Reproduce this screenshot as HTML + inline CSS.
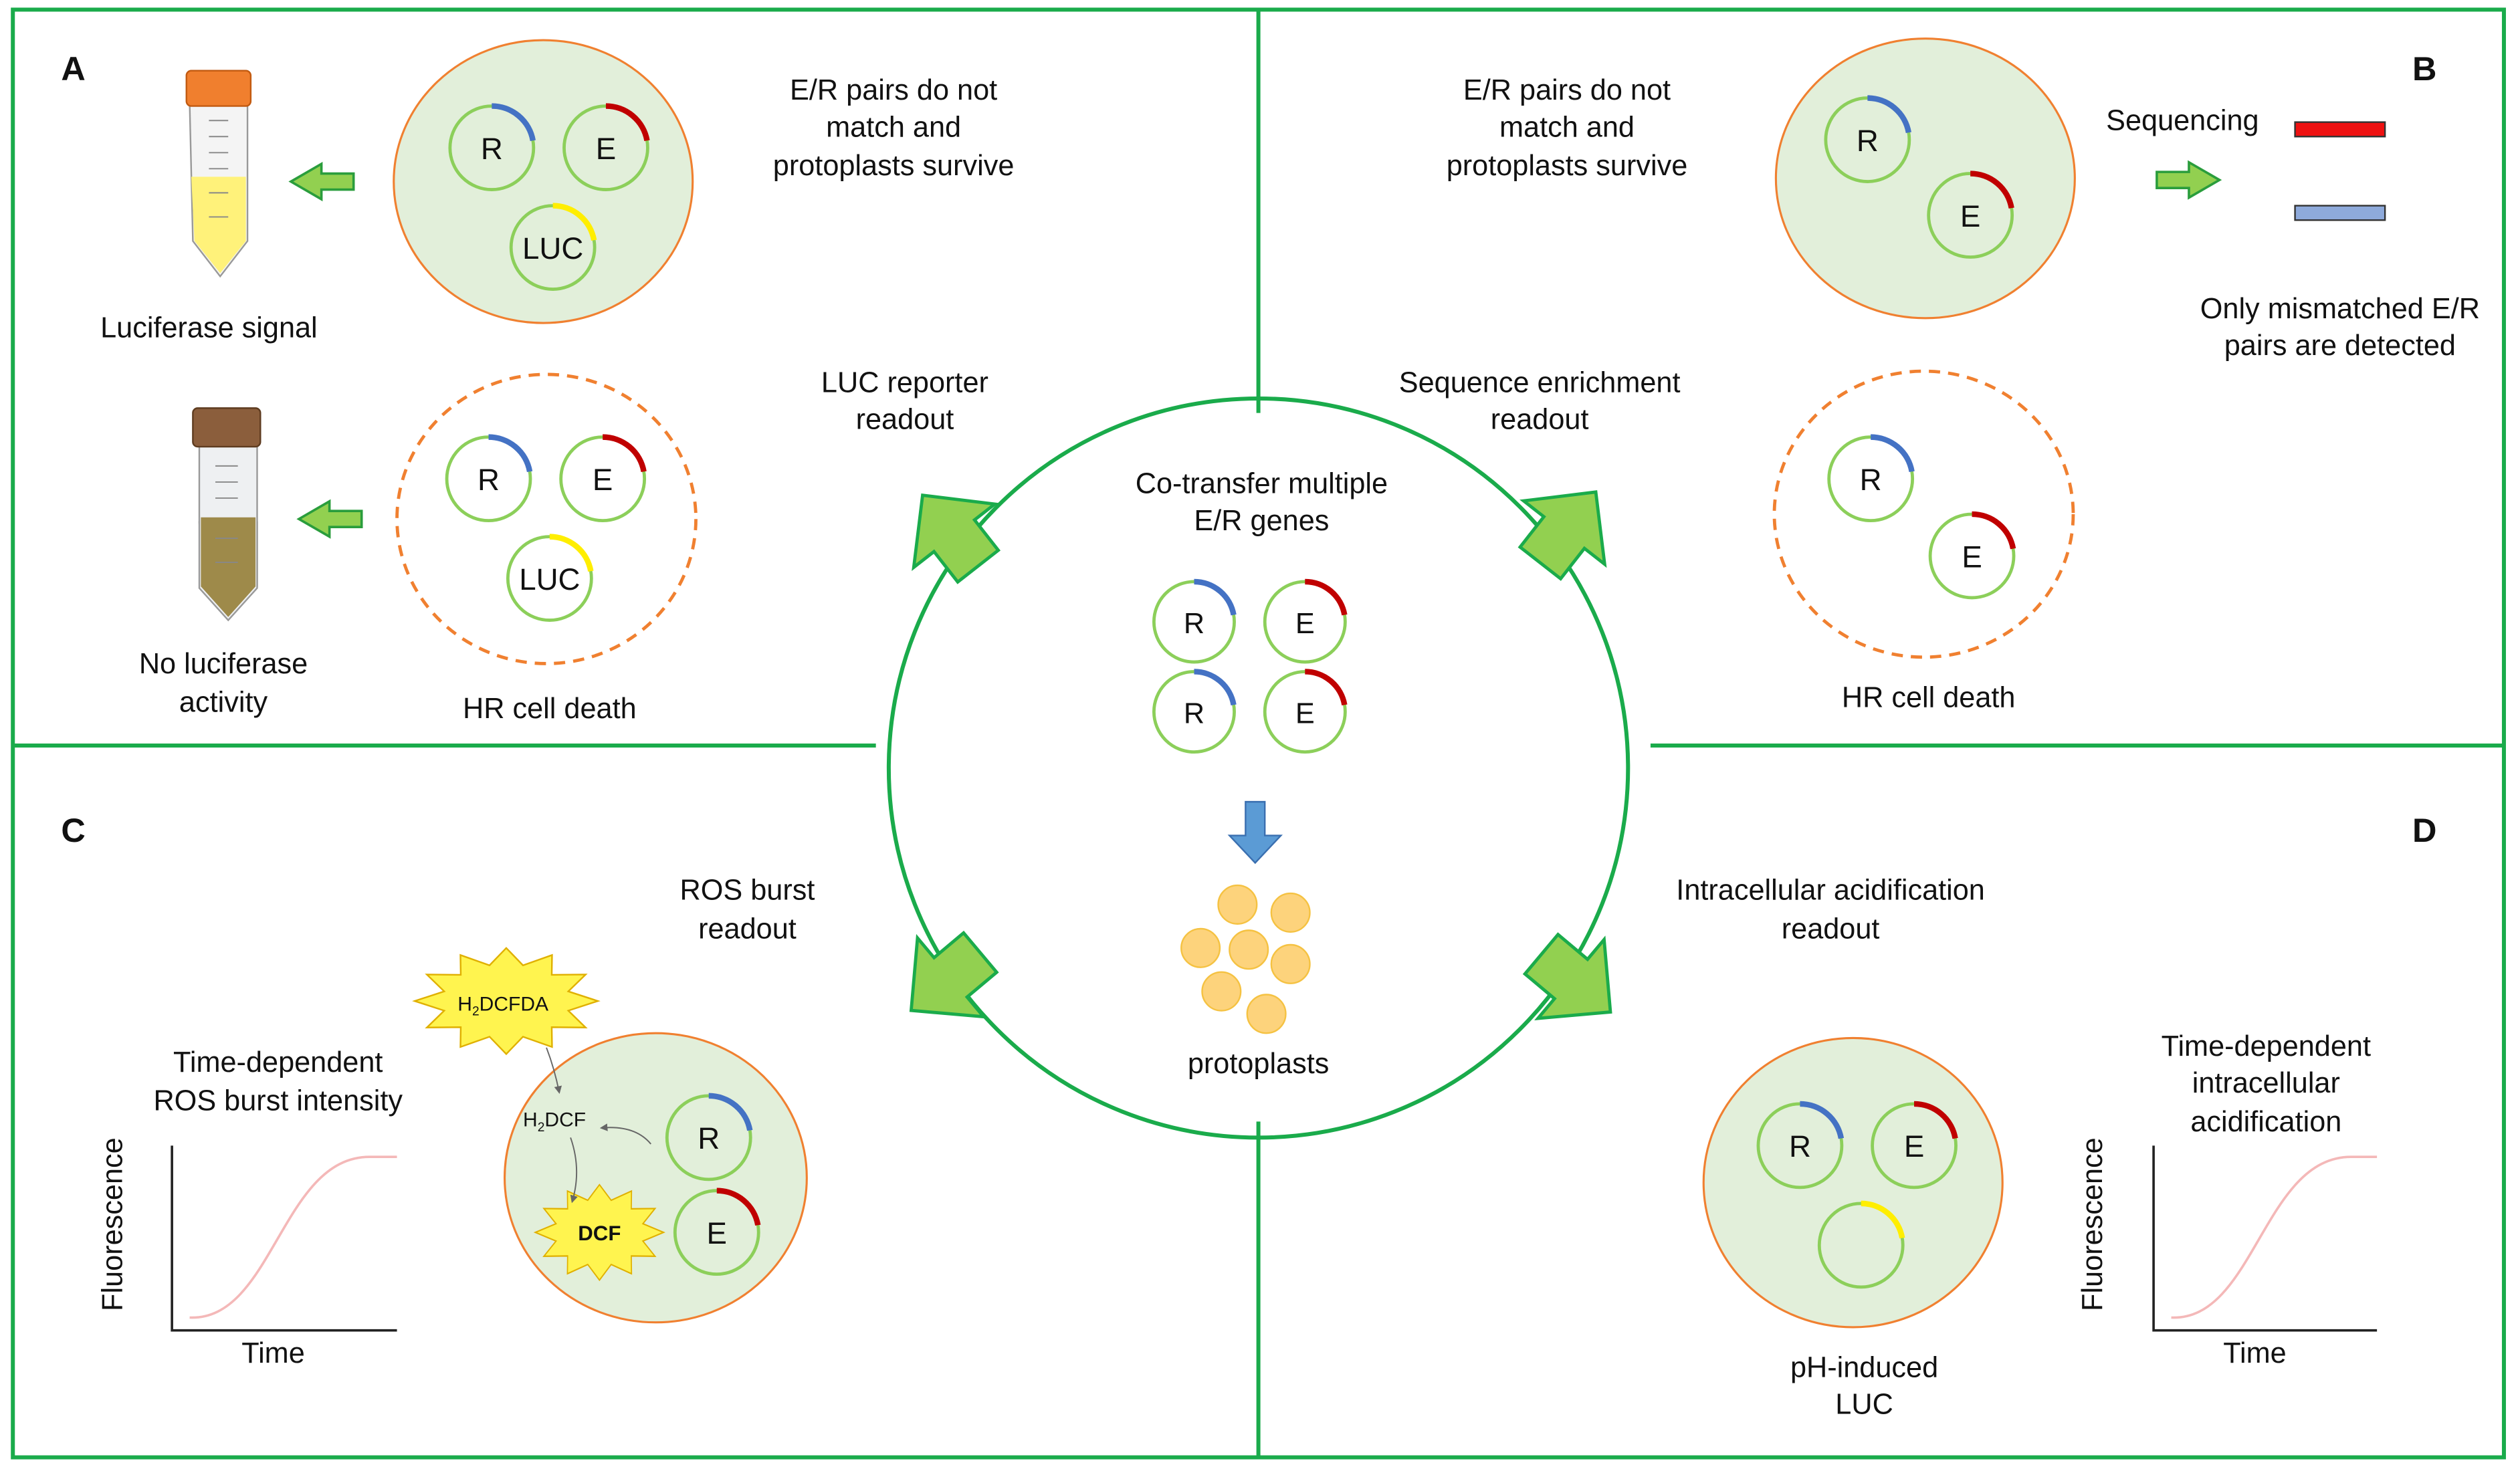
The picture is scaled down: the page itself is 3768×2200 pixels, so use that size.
<!DOCTYPE html>
<html><head><meta charset="utf-8"><style>html,body{margin:0;padding:0;background:#fff}svg{display:block}text{font-family:"Liberation Sans",Arial,sans-serif;fill:#111}</style></head>
<body>
<svg width="3768" height="2200" viewBox="0 0 1568 915.5" xmlns="http://www.w3.org/2000/svg">
<defs>
<g id="arc"><circle r="25" fill="none" stroke="#8ccf5a" stroke-width="2"/></g>
<polygon id="big" points="-22,-16 2,-16 2,-32 34,0 2,32 2,16 -22,16" fill="#92d050" stroke="#1aab4b" stroke-width="2"/>
<polygon id="small" points="20,-5 0,-5 0,-11 -19,0 0,11 0,5 20,5" fill="#92d050" stroke="#2a9d3c" stroke-width="1.5"/>
<polygon id="star" points="57,0 38.6,6 49.4,16.5 28.3,16.3 28.5,28.6 10.4,22.2 0,33 -10.4,22.2 -28.5,28.6 -28.3,16.3 -49.4,16.5 -38.6,6 -57,0 -38.6,-6 -49.4,-16.5 -28.3,-16.3 -28.5,-28.6 -10.4,-22.2 0,-33 10.4,-22.2 28.5,-28.6 28.3,-16.3 49.4,-16.5 38.6,-6" fill="#fff44f" stroke="#e0b000" stroke-width="1"/>
<marker id="ah" markerWidth="6" markerHeight="6" refX="5" refY="3" orient="auto"><path d="M0,0 L6,3 L0,6z" fill="#666"/></marker>
</defs>
<g stroke="#1aab4b" stroke-width="2.5" fill="none">
<rect x="8" y="6" width="1550" height="901"/>
<line x1="783" y1="6" x2="783" y2="257"/><line x1="783" y1="698" x2="783" y2="907"/>
<line x1="8" y1="464" x2="545" y2="464"/><line x1="1027" y1="464" x2="1558" y2="464"/>
<circle cx="783" cy="478" r="230"/>
</g>
<g font-weight="bold" font-size="21"><text x="38" y="50">A</text><text x="1501" y="50">B</text><text x="38" y="524">C</text><text x="1501" y="524">D</text></g>
<g font-size="18" text-anchor="middle">
<text x="556" y="62">E/R pairs do not</text><text x="556" y="85">match and</text><text x="556" y="109">protoplasts survive</text>
<text x="130" y="210">Luciferase signal</text>
<text x="139" y="419">No luciferase</text><text x="139" y="443">activity</text>
<text x="342" y="447">HR cell death</text>
<text x="563" y="244">LUC reporter</text><text x="563" y="267">readout</text>
<text x="975" y="62">E/R pairs do not</text><text x="975" y="85">match and</text><text x="975" y="109">protoplasts survive</text>
<text x="1358" y="81">Sequencing</text>
<text x="1456" y="198">Only mismatched E/R</text><text x="1456" y="221">pairs are detected</text>
<text x="958" y="244">Sequence enrichment</text><text x="958" y="267">readout</text>
<text x="1200" y="440">HR cell death</text>
<text x="785" y="307">Co-transfer multiple</text><text x="785" y="330">E/R genes</text>
<text x="783" y="668">protoplasts</text>
<text x="465" y="560">ROS burst</text><text x="465" y="584">readout</text>
<text x="173" y="667">Time-dependent</text><text x="173" y="691">ROS burst intensity</text>
<text x="170" y="848">Time</text>
<text x="1139" y="560">Intracellular acidification</text><text x="1139" y="584">readout</text>
<text x="1160" y="857">pH-induced</text><text x="1160" y="880">LUC</text>
<text x="1410" y="657">Time-dependent</text><text x="1410" y="680">intracellular</text><text x="1410" y="704">acidification</text>
<text x="1403" y="848">Time</text>
<text transform="translate(76,762) rotate(-90)">Fluorescence</text>
<text transform="translate(1308,762) rotate(-90)">Fluorescence</text>
</g>
<!-- cells -->
<g stroke="#f08030" stroke-width="1.3" fill="#e2efda">
<ellipse cx="338" cy="113" rx="93" ry="88"/>
<ellipse cx="1198" cy="111" rx="93" ry="87"/>
<ellipse cx="408" cy="733" rx="94" ry="90"/>
<ellipse cx="1153" cy="736" rx="93" ry="90"/>
</g>
<g stroke="#f08030" stroke-width="2" fill="none" stroke-dasharray="7,5">
<ellipse cx="340" cy="323" rx="93" ry="90"/>
<ellipse cx="1197" cy="320" rx="93" ry="89"/>
</g>
<!-- plasmids -->
<g fill="none" stroke-width="2">
<g stroke="#8ccf5a" fill="none">
<circle cx="306" cy="92" r="26"/><circle cx="377" cy="92" r="26"/><circle cx="344" cy="154" r="26"/>
<circle cx="304" cy="298" r="26"/><circle cx="375" cy="298" r="26"/><circle cx="342" cy="360" r="26"/>
<circle cx="1162" cy="87" r="26"/><circle cx="1226" cy="134" r="26"/>
<circle cx="1164" cy="298" r="26"/><circle cx="1227" cy="346" r="26"/>
<circle cx="743" cy="387" r="25"/><circle cx="812" cy="387" r="25"/><circle cx="743" cy="443" r="25"/><circle cx="812" cy="443" r="25"/>
<circle cx="441" cy="708" r="26"/><circle cx="446" cy="767" r="26"/>
<circle cx="1120" cy="713" r="26"/><circle cx="1191" cy="713" r="26"/><circle cx="1158" cy="775" r="26"/>
</g>
</g>
<g fill="none" stroke-width="3.5">
<g stroke="#4472c4">
<path d="M306,66 A26,26 0 0 1 331.6,87.5"/><path d="M304,272 A26,26 0 0 1 329.6,293.5"/>
<path d="M1162,61 A26,26 0 0 1 1187.6,82.5"/><path d="M1164,272 A26,26 0 0 1 1189.6,293.5"/>
<path d="M743,362 A25,25 0 0 1 767.6,382.7"/><path d="M743,418 A25,25 0 0 1 767.6,438.7"/>
<path d="M441,682 A26,26 0 0 1 466.6,703.5"/><path d="M1120,687 A26,26 0 0 1 1145.6,708.5"/>
</g>
<g stroke="#c00000">
<path d="M377,66 A26,26 0 0 1 402.6,87.5"/><path d="M375,272 A26,26 0 0 1 400.6,293.5"/>
<path d="M1226,108 A26,26 0 0 1 1251.6,129.5"/><path d="M1227,320 A26,26 0 0 1 1252.6,341.5"/>
<path d="M812,362 A25,25 0 0 1 836.6,382.7"/><path d="M812,418 A25,25 0 0 1 836.6,438.7"/>
<path d="M446,741 A26,26 0 0 1 471.6,762.5"/><path d="M1191,687 A26,26 0 0 1 1216.6,708.5"/>
</g>
<g stroke="#ffee00">
<path d="M344,128 A26,26 0 0 1 369.6,149.5"/><path d="M342,334 A26,26 0 0 1 367.6,355.5"/><path d="M1158,749 A26,26 0 0 1 1183.6,770.5"/>
</g>
</g>
<g font-size="19" text-anchor="middle">
<text x="306" y="99">R</text><text x="377" y="99">E</text><text x="344" y="161">LUC</text>
<text x="304" y="305">R</text><text x="375" y="305">E</text><text x="342" y="367">LUC</text>
<text x="1162" y="94">R</text><text x="1226" y="141">E</text>
<text x="1164" y="305">R</text><text x="1227" y="353">E</text>
<text x="441" y="715">R</text><text x="446" y="774">E</text>
<text x="1120" y="720">R</text><text x="1191" y="720">E</text>
</g>
<g font-size="18" text-anchor="middle" fill="#333">
<text x="743" y="394">R</text><text x="812" y="394">E</text><text x="743" y="450">R</text><text x="812" y="450">E</text>
</g>
<!-- big arrows -->
<use href="#big" transform="translate(595,335) rotate(-128)"/>
<use href="#big" transform="translate(972,333) rotate(-52)"/>
<use href="#big" transform="translate(593,607) rotate(140)"/>
<use href="#big" transform="translate(976,608) rotate(40)"/>
<!-- small arrows -->
<use href="#small" transform="translate(200,113)"/>
<use href="#small" transform="translate(205,323)"/>
<use href="#small" transform="translate(1362,112) rotate(180)"/>
<!-- bars -->
<rect x="1428" y="76" width="56" height="9" fill="#ee1111" stroke="#333" stroke-width="1"/>
<rect x="1428" y="128" width="56" height="9" fill="#8eaadb" stroke="#333" stroke-width="1"/>
<!-- blue arrow -->
<polygon points="775,499 787,499 787,520 797,520 781,537 765,520 775,520" fill="#5b9bd5" stroke="#3a6fb0" stroke-width="1"/>
<!-- protoplasts -->
<g fill="#fdd37c" stroke="#f5c242" stroke-width="1">
<circle cx="770" cy="563" r="12"/><circle cx="803" cy="568" r="12"/><circle cx="747" cy="590" r="12"/><circle cx="777" cy="591" r="12"/><circle cx="803" cy="600" r="12"/><circle cx="760" cy="617" r="12"/><circle cx="788" cy="631" r="12"/>
</g>
<!-- tubes -->
<g>
<path d="M118,64 L154,64 L154,150 L137,172 L120,150 Z" fill="#f4f4f4" stroke="#999"/>
<path d="M119,110 L153,110 L153,150 L137,170 L121,150 Z" fill="#fff27a"/>
<rect x="116" y="44" width="40" height="22" rx="3" fill="#f07f2e" stroke="#c25a10"/>
<path d="M124,325 L160,325 L160,365 L142,385 L126,365 Z" fill="#f4f4f4" stroke="#999"/>
<path d="M124,276 L160,276 L160,366 L142,386 L124,366 Z" fill="#eef0f2" stroke="#999"/>
<path d="M125,322 L159,322 L159,365 L142,384 L125,365 Z" fill="#9e8a4a"/>
<rect x="120" y="254" width="42" height="24" rx="3" fill="#8b5e3c" stroke="#5e3c20"/>
</g>
<g stroke="#888" stroke-width="0.8">
<line x1="130" y1="75" x2="142" y2="75"/><line x1="130" y1="85" x2="142" y2="85"/><line x1="130" y1="95" x2="142" y2="95"/><line x1="130" y1="105" x2="142" y2="105"/><line x1="130" y1="120" x2="142" y2="120"/><line x1="130" y1="135" x2="142" y2="135"/>
<line x1="134" y1="290" x2="148" y2="290"/><line x1="134" y1="300" x2="148" y2="300"/><line x1="134" y1="310" x2="148" y2="310"/><line x1="134" y1="335" x2="148" y2="335"/><line x1="134" y1="350" x2="148" y2="350"/>
</g>
<!-- stars -->
<use href="#star" transform="translate(315,623)"/>
<use href="#star" transform="translate(373,767) scale(0.7,0.9)"/>
<text x="313" y="629" font-size="12.5" text-anchor="middle">H<tspan font-size="8" dy="3">2</tspan><tspan dy="-3">DCFDA</tspan></text>
<text x="373" y="772" font-size="13" text-anchor="middle" font-weight="bold">DCF</text>
<text x="345" y="701" font-size="12.5" text-anchor="middle">H<tspan font-size="8" dy="3">2</tspan><tspan dy="-3">DCF</tspan></text>
<g fill="none" stroke="#666" stroke-width="0.8" marker-end="url(#ah)">
<path d="M340,652 Q345,665 348,680"/>
<path d="M405,712 Q395,700 374,702"/>
<path d="M355,708 Q362,728 356,748"/>
</g>
<!-- graphs -->
<g fill="none">
<path d="M107,713 L107,828 L247,828" stroke="#222" stroke-width="1.5"/>
<path d="M118,820 C170,822 175,720 230,720 L247,720" stroke="#f4b8b8" stroke-width="1.5"/>
<path d="M1340,713 L1340,828 L1479,828" stroke="#222" stroke-width="1.5"/>
<path d="M1351,820 C1403,822 1408,720 1463,720 L1479,720" stroke="#f4b8b8" stroke-width="1.5"/>
</g>
</svg>
</body></html>
